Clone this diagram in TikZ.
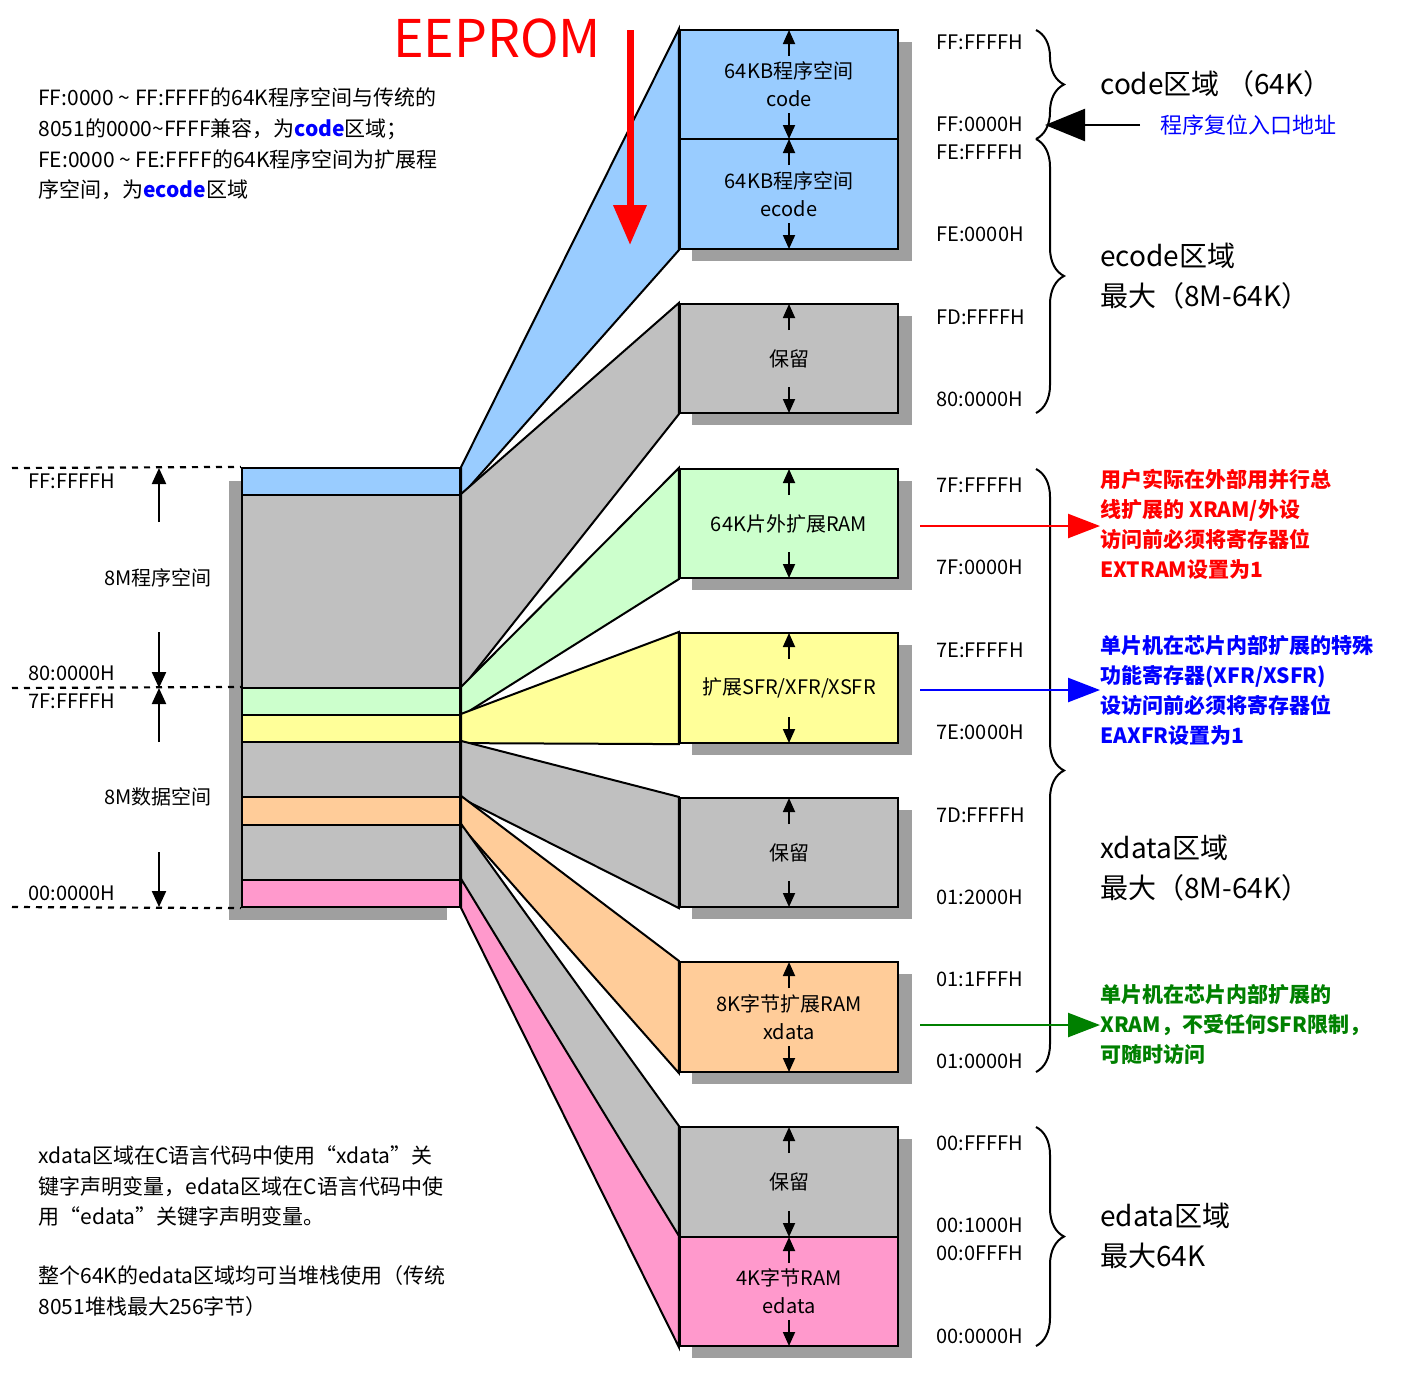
\documentclass[tikz,border=0pt]{standalone}
\usepackage{fontspec}
\setmainfont{Noto Sans CJK SC}
\usepackage{tikz}
\usetikzlibrary{arrows.meta, positioning, calc, decorations.pathreplacing}
\definecolor{cblue}{HTML}{99CCFF}
\definecolor{cgray}{HTML}{C0C0C0}
\definecolor{cgreen}{HTML}{CCFFCC}
\definecolor{cyellow}{HTML}{FFFF99}
\definecolor{corange}{HTML}{FFCC99}
\definecolor{cpink}{HTML}{FF99CC}
\definecolor{dgreen}{HTML}{008000}
\definecolor{tblue}{HTML}{0000FF}
\begin{document}
\begin{tikzpicture}[
    x=0.5pt, y=-0.5pt,
    font=\fontsize{10}{14}\selectfont,
    % Styles
    box/.style={draw, line width=1.1pt, minimum width=109pt, inner sep=0pt, align=center},
    seg/.style={draw, line width=1.1pt, minimum width=109pt, inner sep=0pt},
    fan/.style={draw, line width=1pt},
    shade/.style={fill=gray!75},
    addr/.style={anchor=west, inner sep=0pt},
    tick/.style={-{Triangle[length=7pt, width=6pt]}, line width=0.9pt},
    bigtick/.style={-{Triangle[length=8pt, width=7pt]}, line width=1.1pt},
    brace/.style={decorate, decoration={brace, amplitude=14pt}, line width=1pt},
    note/.style={anchor=west, inner sep=0pt, align=left},
    lim/.style={dashed, line width=1.1pt}
]
\useasboundingbox (0,0) rectangle (1412,1394);

% --- Right column shadows and boxes ---
\foreach \n/\t/\b/\c/\s in {code/30/139/cblue/{64KB程序空间\\code},
    ecode/139/249/cblue/{64KB程序空间\\ecode},
    resa/304/413/cgray/{保留},
    xram/469/578/cgreen/{64K片外扩展RAM},
    xfr/633/743/cyellow/{扩展SFR/XFR/XSFR},
    resb/798/907/cgray/{保留},
    xdat/962/1072/corange/{8K字节扩展RAM\\xdata},
    resc/1127/1237/cgray/{保留},
    edat/1237/1346/cpink/{4K字节RAM\\edata}} {
    \fill[shade] (692,\t+12) rectangle (912,\b+12);
}
\foreach \n/\t/\b/\c/\s in {code/30/139/cblue/{64KB程序空间\\code},
    ecode/139/249/cblue/{64KB程序空间\\ecode},
    resa/304/413/cgray/{保留},
    xram/469/578/cgreen/{64K片外扩展RAM},
    xfr/633/743/cyellow/{扩展SFR/XFR/XSFR},
    resb/798/907/cgray/{保留},
    xdat/962/1072/corange/{8K字节扩展RAM\\xdata},
    resc/1127/1237/cgray/{保留},
    edat/1237/1346/cpink/{4K字节RAM\\edata}} {
    \node[box, fill=\c, minimum height={(\b-\t)*0.5pt}] (\n) at (789,{(\t+\b)/2}) {\s};
    \draw[tick] (789,\t+26) -- (789,\t);
    \draw[tick] (789,\b-26) -- (789,\b);
}

% --- Left column ---
\fill[shade] (229,481) rectangle (447,920);
\foreach \n/\t/\b/\c in {lcode/468/495/cblue, lprog/495/688/cgray, lxram/688/715/cgreen,
    lxfr/715/742/cyellow, lresb/742/797/cgray, lxdat/797/825/corange,
    lresc/825/880/cgray, ledat/880/907/cpink} {
    \node[seg, fill=\c, minimum height={(\b-\t)*0.5pt}] (\n) at (351,{(\t+\b)/2}) {};
}

% --- Fans ---
\filldraw[fan, fill=cblue] (lcode.north east) -- (code.north west) -- (ecode.south west) -- (lcode.south east) -- cycle;
\filldraw[fan, fill=cgray] (lprog.north east) -- (resa.north west) -- (resa.south west) -- (lprog.south east) -- cycle;
\filldraw[fan, fill=cgreen] (lxram.north east) -- (xram.north west) -- (xram.south west) -- (lxram.south east) -- cycle;
\filldraw[fan, fill=cyellow] (lxfr.north east) -- (xfr.north west) -- (xfr.south west) -- (lxfr.south east) -- cycle;
\filldraw[fan, fill=cgray] (lresb.north east) -- (resb.north west) -- (resb.south west) -- (lresb.south east) -- cycle;
\filldraw[fan, fill=corange] (lxdat.north east) -- (xdat.north west) -- (xdat.south west) -- (lxdat.south east) -- cycle;
\filldraw[fan, fill=cgray] (lresc.north east) -- (resc.north west) -- (resc.south west) -- (lresc.south east) -- cycle;
\filldraw[fan, fill=cpink] (ledat.north east) -- (edat.north west) -- (edat.south west) -- (ledat.south east) -- cycle;

% --- EEPROM marker ---
\node[text=red, font=\fontsize{26}{28}\selectfont] (eeprom) at (497,38) {EEPROM};
\coordinate (eetop) at (630,30);
\coordinate (eebot) at (630,245);
\draw[red, line width=3.5pt, -{Triangle[length=20pt, width=16pt]}] (eetop) -- (eebot);

% --- Left labels ---
\coordinate (dl1) at (12,468); \coordinate (dl2) at (12,688); \coordinate (dl3) at (12,907);
\draw[lim] (dl1) -- (lcode.north west);
\draw[lim] (dl2) -- (lxram.north west);
\draw[lim] (dl3) -- (ledat.south west);
\node[addr] (lffff) at (28,481) {FF:FFFFH};
\node[addr] (l8000) at (28,673) {80:0000H};
\node[addr] (l7fff) at (28,701) {7F:FFFFH};
\node[addr] (l0000) at (28,893) {00:0000H};
\node (lprg) at (158,578) {8M程序空间};
\node (ldat) at (158,797) {8M数据空间};
\draw[bigtick] (159,522) -- (159,468);
\draw[bigtick] (159,632) -- (159,688);
\draw[bigtick] (159,742) -- (159,688);
\draw[bigtick] (159,852) -- (159,907);

% --- Addresses ---
\foreach \y/\a in {42/FF:FFFFH, 124/FF:0000H, 152/FE:FFFFH, 234/FE:0000H, 317/FD:FFFFH,
    399/80:0000H, 485/7F:FFFFH, 567/7F:0000H, 650/7E:FFFFH, 732/7E:0000H, 815/7D:FFFFH,
    897/01:2000H, 979/01:1FFFH, 1061/01:0000H, 1143/00:FFFFH, 1225/00:1000H,
    1253/00:0FFFH, 1336/00:0000H}
    \node[addr] at (936,\y) {\a};

% --- Braces ---
\draw[brace] (1036,30) -- (1036,139);
\draw[brace] (1036,139) -- (1036,413);
\draw[brace] (1036,469) -- (1036,1072);
\draw[brace] (1036,1127) -- (1036,1346);
\node[note, font=\fontsize{14}{18}\selectfont] (bcode) at (1100,84) {code区域 （64K）};
\node[note, font=\fontsize{14}{20}\selectfont] (becode) at (1100,276) {ecode区域\\最大（8M-64K）};
\node[note, font=\fontsize{14}{20}\selectfont] (bxdata) at (1100,868) {xdata区域\\最大（8M-64K）};
\node[note, font=\fontsize{14}{20}\selectfont] (bedata) at (1100,1236) {edata区域\\最大64K};

% --- Reset entry ---
\node[note, text=tblue, font=\fontsize{11}{13}\selectfont] (reset) at (1160,125) {程序复位入口地址};
\coordinate (rsttip) at (1045,125);
\draw[line width=1.2pt, -{Triangle[length=20pt, width=16pt]}] ($(reset.west)+(-20,0)$) -- (rsttip);

% --- Side notes ---
\coordinate (ra) at (920,526); \coordinate (ba) at (920,690); \coordinate (ga) at (920,1025);
\node[note, text=red, font=\bfseries\fontsize{10.5}{15}\selectfont] (nred) at (1100,524)
    {用户实际在外部用并行总\\线扩展的 XRAM/外设\\访问前必须将寄存器位\\EXTRAM设置为1};
\node[note, text=tblue, font=\bfseries\fontsize{10.5}{15}\selectfont] (nblue) at (1100,690)
    {单片机在芯片内部扩展的特殊\\功能寄存器(XFR/XSFR)\\设访问前必须将寄存器位\\EAXFR设置为1};
\node[note, text=dgreen, font=\bfseries\fontsize{10.5}{15}\selectfont] (ngreen) at (1100,1024)
    {单片机在芯片内部扩展的\\XRAM，不受任何SFR限制，\\可随时访问};
\draw[red, line width=1.2pt, -{Triangle[length=16pt, width=12pt]}] (ra) -- (ra -| nred.west);
\draw[tblue, line width=1.2pt, -{Triangle[length=16pt, width=12pt]}] (ba) -- (ba -| nblue.west);
\draw[dgreen, line width=1.2pt, -{Triangle[length=16pt, width=12pt]}] (ga) -- (ga -| ngreen.west);

% --- Text notes ---
\node[note, font=\fontsize{10.5}{15.3}\selectfont] (ntop) at (38,144)
    {FF:0000 \textasciitilde{} FF:FFFF的64K程序空间与传统的\\8051的0000\textasciitilde FFFF兼容，为\textcolor{tblue}{\bfseries code}区域；\\FE:0000 \textasciitilde{} FE:FFFF的64K程序空间为扩展程\\序空间，为\textcolor{tblue}{\bfseries ecode}区域};
\node[note, font=\fontsize{10.5}{15.3}\selectfont] (nbot) at (38,1186)
    {xdata区域在C语言代码中使用“xdata”关\\键字声明变量，edata区域在C语言代码中使\\用“edata”关键字声明变量。};
\node[note, font=\fontsize{10.5}{15.3}\selectfont] (nstack) at (38,1291)
    {整个64K的edata区域均可当堆栈使用（传统\\8051堆栈最大256字节）};
\end{tikzpicture}
\end{document}
